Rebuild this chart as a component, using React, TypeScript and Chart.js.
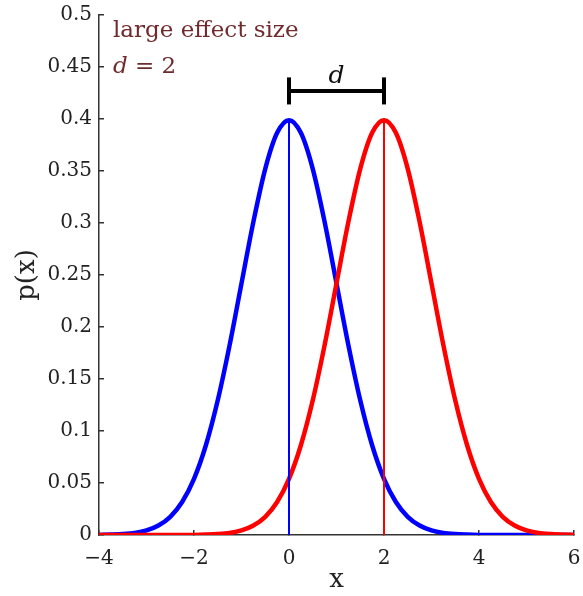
import React, { useEffect, useRef } from "react";
import { Chart, registerables } from "chart.js";

Chart.register(...registerables);

// x positions of the sampled curve points
const xValues: number[] = [
  -4, -3.75, -3.5, -3.25, -3, -2.75, -2.5, -2.25, -2, -1.75, -1.5, -1.25, -1, -0.75, -0.5, -0.25,
  0, 0.25, 0.5, 0.75, 1, 1.25, 1.5, 1.75, 2, 2.25, 2.5, 2.75, 3, 3.25, 3.5, 3.75,
  4, 4.25, 4.5, 4.75, 5, 5.25, 5.5, 5.75, 6,
];

// blue curve (mean 0)
const blueValues: number[] = [
  0.0001, 0.0004, 0.0009, 0.002, 0.0044, 0.0091, 0.0175, 0.0317, 0.054, 0.0863, 0.1295, 0.1826,
  0.242, 0.3011, 0.3521, 0.3867, 0.3989, 0.3867, 0.3521, 0.3011, 0.242, 0.1826, 0.1295, 0.0863,
  0.054, 0.0317, 0.0175, 0.0091, 0.0044, 0.002, 0.0009, 0.0004, 0.0001, 0, 0, 0, 0, 0, 0, 0, 0,
];

// red curve (mean 2)
const redValues: number[] = [
  0, 0, 0, 0, 0, 0, 0, 0, 0.0001, 0.0004, 0.0009, 0.002, 0.0044, 0.0091, 0.0175, 0.0317, 0.054,
  0.0863, 0.1295, 0.1826, 0.242, 0.3011, 0.3521, 0.3867, 0.3989, 0.3867, 0.3521, 0.3011, 0.242,
  0.1826, 0.1295, 0.0863, 0.054, 0.0317, 0.0175, 0.0091, 0.0044, 0.002, 0.0009, 0.0004, 0.0001,
];

const blueMean = 0;
const redMean = 2;
const peakValue = 0.4;
const bracketLevel = 0.427;
const bracketCapHalf = 0.013;
const annotationLines: string[] = ["large effect size", "d = 2"];
const bracketLabel = "d";
const xTitle = "x";
const yTitle = "p(x)";

const SERIF = "'DejaVu Serif', 'Liberation Serif', serif";
const ANNOT_COLOR = "#6e2a2c";
const AXIS_COLOR = "#333333";

const annotationPlugin = {
  id: "annotations",
  afterDatasetsDraw(chart: any) {
    const { ctx, scales } = chart;
    const xs = scales.x;
    const ys = scales.y;
    ctx.save();
    ctx.fillStyle = ANNOT_COLOR;
    ctx.textBaseline = "alphabetic";
    ctx.textAlign = "left";
    const left = xs.left + 14;
    ctx.font = `23px ${SERIF}`;
    ctx.fillText(annotationLines[0], left, 37);
    const parts = annotationLines[1].split(" ");
    ctx.font = `italic 23px ${SERIF}`;
    ctx.fillText(parts[0], left, 73);
    const w = ctx.measureText(parts[0]).width;
    ctx.font = `23px ${SERIF}`;
    ctx.fillText(" " + parts.slice(1).join(" "), left + w, 73);
    ctx.fillStyle = "#111";
    ctx.font = `italic 25px ${SERIF}`;
    ctx.textAlign = "center";
    const cx = (xs.getPixelForValue(blueMean) + xs.getPixelForValue(redMean)) / 2;
    ctx.fillText(bracketLabel, cx, ys.getPixelForValue(bracketLevel) - 8);
    ctx.restore();
  },
};

export default function App() {
  const ref = useRef<HTMLCanvasElement | null>(null);
  useEffect(() => {
    document.body.style.margin = "0";
    if (!ref.current) return;
    const curve = (vals: number[]) => xValues.map((x, i) => ({ x, y: vals[i] }));
    const seg = (x0: number, y0: number, x1: number, y1: number) => [
      { x: x0, y: y0 },
      { x: x1, y: y1 },
    ];
    const line = (label: string, data: any[], color: string, width: number, order: number, smooth = false) => ({
      label,
      data,
      borderColor: color,
      borderWidth: width,
      showLine: true,
      pointRadius: 0,
      order,
      ...(smooth ? { cubicInterpolationMode: "monotone" } : {}),
    });
    const chart = new Chart(ref.current, {
      type: "scatter",
      data: {
        datasets: [
          line("red", curve(redValues), "#ff0000", 4.5, 1, true),
          line("blue", curve(blueValues), "#0000ff", 4.5, 2, true),
          line("blue mean", seg(blueMean, 0, blueMean, peakValue), "#0000ff", 2, 0),
          line("red mean", seg(redMean, 0, redMean, peakValue), "#ff0000", 2, 0),
          line("bracket", seg(blueMean, bracketLevel, redMean, bracketLevel), "#000000", 4, 0),
          line("cap left", seg(blueMean, bracketLevel - bracketCapHalf, blueMean, bracketLevel + bracketCapHalf), "#000000", 4, 0),
          line("cap right", seg(redMean, bracketLevel - bracketCapHalf, redMean, bracketLevel + bracketCapHalf), "#000000", 4, 0),
        ],
      },
      options: {
        animation: false,
        responsive: false,
        devicePixelRatio: 1,
        layout: { padding: { left: 0, right: 9, top: 15, bottom: 0 } },
        plugins: { legend: { display: false }, tooltip: { enabled: false } },
        scales: {
          x: {
            type: "linear",
            min: -4,
            max: 6,
            afterFit: (s: any) => {
              s.height = 61;
              s.paddingLeft = 0;
              s.paddingRight = 0;
            },
            ticks: {
              stepSize: 2,
              color: "#222",
              padding: 17,
              maxRotation: 0,
              font: { family: SERIF, size: 20 },
              callback: (v: any) => (Number(v) < 0 ? "\u2212" + Math.abs(Number(v)) : String(v)),
            },
            grid: { drawOnChartArea: false, drawTicks: true, tickLength: -5, color: AXIS_COLOR, lineWidth: 1.5 },
            border: { display: true, color: AXIS_COLOR, width: 1.5 },
            title: {
              display: true,
              text: xTitle,
              color: "#222",
              font: { family: SERIF, size: 26 },
              padding: { top: 0, bottom: 0 },
            },
          },
          y: {
            type: "linear",
            min: 0,
            max: 0.5,
            afterFit: (s: any) => {
              s.width = 99;
              s.paddingTop = 0;
              s.paddingBottom = 0;
            },
            ticks: {
              stepSize: 0.05,
              color: "#222",
              padding: 12,
              font: { family: SERIF, size: 20 },
              callback: (v: any) => {
                const n = Number(v);
                return n === 0 ? "0" : String(parseFloat(n.toFixed(2)));
              },
            },
            grid: { drawOnChartArea: false, drawTicks: true, tickLength: -5, color: AXIS_COLOR, lineWidth: 1.5 },
            border: { display: true, color: AXIS_COLOR, width: 1.5 },
            title: {
              display: true,
              text: yTitle,
              color: "#222",
              font: { family: SERIF, size: 26 },
              padding: { top: 12, bottom: 0 },
            },
          },
        },
      },
      plugins: [annotationPlugin],
    } as any);
    return () => chart.destroy();
  }, []);
  return (
    <div style={{ width: 583, height: 596, background: "#fff" }}>
      <canvas ref={ref} width={583} height={596} />
    </div>
  );
}
